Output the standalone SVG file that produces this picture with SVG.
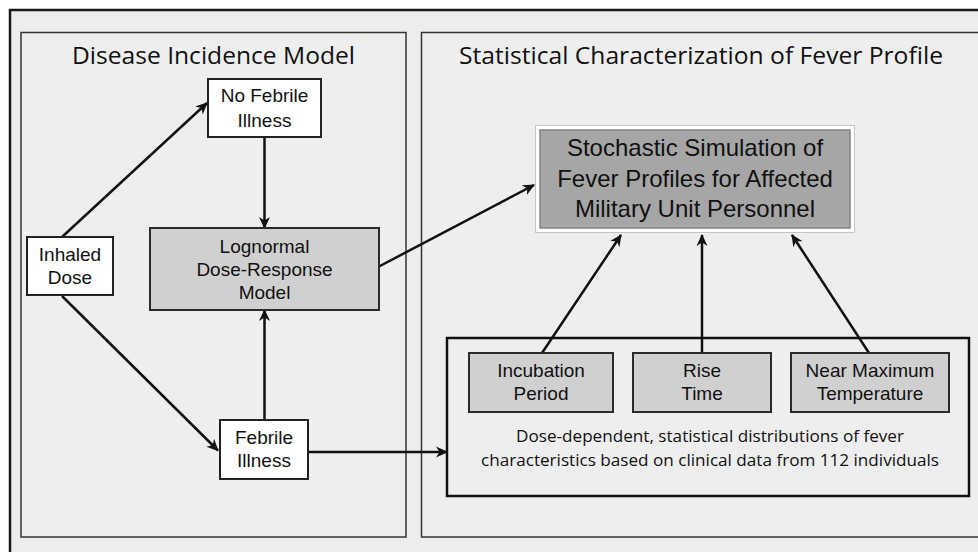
<svg xmlns="http://www.w3.org/2000/svg" width="978" height="552" viewBox="0 0 978 552">
  <defs>
    <marker id="arr" viewBox="0 0 12 12" markerWidth="12" markerHeight="12" refX="11" refY="6" orient="auto" markerUnits="userSpaceOnUse">
      <path d="M0,0.5 L12,6 L0,11.5 L3.5,6 z" fill="#111"/>
    </marker>
  </defs>
  <style>
    .panel { fill: #eeeeee; stroke: #333; stroke-width: 1.5; }
    .title { font-family: "Open Sans", "Liberation Sans", sans-serif; font-size: 23px; fill: #111; text-anchor: middle; }
    .wnode { fill: #ffffff; stroke: #222; stroke-width: 2; }
    .gnode { fill: #d0d0d0; stroke: #2a2a2a; stroke-width: 2; }
    .lbl { font-family: "Liberation Sans", Arial, sans-serif; font-size: 19px; fill: #111; text-anchor: middle; }
    .big { font-family: "Liberation Sans", Arial, sans-serif; font-size: 24px; fill: #111; text-anchor: middle; }
    .cap { font-family: "Open Sans", "Liberation Sans", sans-serif; font-size: 17px; fill: #111; text-anchor: middle; }
    .conn line { stroke: #111; stroke-width: 2.5; fill: none; }
  </style>

  <rect x="0" y="0" width="978" height="552" fill="#ffffff"/>
  <rect id="outer" x="10" y="10" width="980" height="560" fill="#ededed" stroke="#1a1a1a" stroke-width="2.5"/>

  <g id="panel-left">
    <rect class="panel" x="21" y="32.5" width="385" height="504.5"/>
    <text class="title" x="213.5" y="64" textLength="283" lengthAdjust="spacingAndGlyphs">Disease Incidence Model</text>
  </g>
  <g id="panel-right">
    <rect class="panel" x="421.5" y="32.5" width="570" height="504.5"/>
    <text class="title" x="701" y="64" textLength="484" lengthAdjust="spacingAndGlyphs">Statistical Characterization of Fever Profile</text>
  </g>

  <g id="conns" class="conn">
    <line x1="62" y1="237" x2="207" y2="103" marker-end="url(#arr)"/>
    <line x1="264.5" y1="137" x2="264.5" y2="228" marker-end="url(#arr)"/>
    <line x1="62" y1="296" x2="218" y2="450.5" marker-end="url(#arr)"/>
    <line x1="264.5" y1="420" x2="264.5" y2="310" marker-end="url(#arr)"/>
    <line x1="379" y1="266.5" x2="534" y2="185" marker-end="url(#arr)"/>
    <line x1="308" y1="452" x2="447" y2="452" marker-end="url(#arr)"/>
    <line x1="542" y1="353" x2="621" y2="235" marker-end="url(#arr)"/>
    <line x1="702" y1="353" x2="702" y2="235" marker-end="url(#arr)"/>
    <line x1="869" y1="353" x2="792" y2="235" marker-end="url(#arr)"/>
  </g>

  <g id="no-febrile">
    <rect class="wnode" x="208" y="79" width="113" height="58"/>
    <text class="lbl" x="264.5" y="102">No Febrile</text>
    <text class="lbl" x="264.5" y="127">Illness</text>
  </g>

  <g id="inhaled-dose">
    <rect class="wnode" x="27" y="237" width="86" height="58"/>
    <text class="lbl" x="70" y="260.5">Inhaled</text>
    <text class="lbl" x="70" y="284">Dose</text>
  </g>

  <g id="lognormal">
    <rect class="gnode" x="150" y="228" width="229" height="82"/>
    <text class="lbl" x="264.5" y="252.5">Lognormal</text>
    <text class="lbl" x="264.5" y="275.5">Dose-Response</text>
    <text class="lbl" x="264.5" y="299">Model</text>
  </g>

  <g id="febrile">
    <rect class="wnode" x="220" y="420" width="88" height="59"/>
    <text class="lbl" x="264" y="443.5">Febrile</text>
    <text class="lbl" x="264" y="467">Illness</text>
  </g>

  <g id="stochastic">
    <rect x="535.5" y="125.5" width="319" height="107" fill="#ffffff" stroke="#c4c4c4" stroke-width="1"/>
    <rect x="540" y="130" width="310" height="98" fill="#a6a6a6" stroke="#858585" stroke-width="1.5"/>
    <text class="big" x="695" y="156">Stochastic Simulation of</text>
    <text class="big" x="695" y="187">Fever Profiles for Affected</text>
    <text class="big" x="695" y="217">Military Unit Personnel</text>
  </g>

  <g id="fever-characteristics">
    <rect x="447" y="338" width="522" height="158" fill="none" stroke="#111" stroke-width="2.5"/>
    <text class="cap" x="710" y="442" textLength="388" lengthAdjust="spacingAndGlyphs">Dose-dependent, statistical distributions of fever</text>
    <text class="cap" x="710" y="466" textLength="458" lengthAdjust="spacingAndGlyphs">characteristics based on clinical data from 112 individuals</text>
  </g>

  <g id="incubation">
    <rect class="gnode" x="469" y="353" width="144" height="59"/>
    <text class="lbl" x="541" y="377">Incubation</text>
    <text class="lbl" x="541" y="400">Period</text>
  </g>

  <g id="rise-time">
    <rect class="gnode" x="633" y="353" width="138" height="59"/>
    <text class="lbl" x="702" y="377">Rise</text>
    <text class="lbl" x="702" y="400">Time</text>
  </g>

  <g id="near-max">
    <rect class="gnode" x="791" y="353" width="158" height="59"/>
    <text class="lbl" x="870" y="377">Near Maximum</text>
    <text class="lbl" x="870" y="400">Temperature</text>
  </g>
</svg>
